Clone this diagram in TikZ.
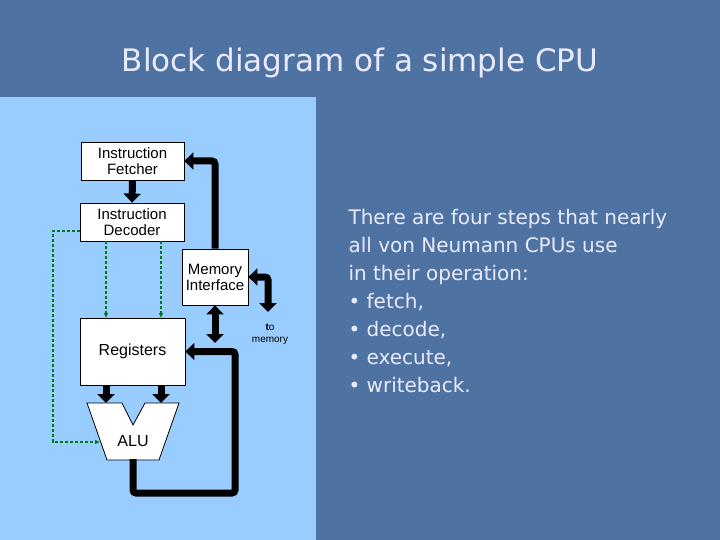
\documentclass[tikz,border=0pt]{standalone}
\usepackage{fontspec}
\setmainfont{DejaVu Sans}
\newfontfamily\arialf{Liberation Sans}
\usetikzlibrary{arrows.meta}
\definecolor{slidebg}{HTML}{4E73A2}
\definecolor{panel}{HTML}{99CCFF}
\definecolor{dgreen}{HTML}{007A1E}
\begin{document}
\begin{tikzpicture}[x=1pt,y=-1pt,
  blk/.style={draw=black,fill=white,line width=0.8pt,inner sep=0pt,align=center,font=\arialf\fontsize{15}{16}\selectfont},
  bus/.style={line width=7pt,-{Triangle[length=9pt,width=17pt]}},
  dbus/.style={line width=7pt,{Triangle[length=9pt,width=17pt]}-{Triangle[length=9pt,width=17pt]}},
  ctl/.style={dgreen,densely dashed,line width=1.3pt,-{Latex[length=5pt,width=5pt]}}]
\fill[slidebg] (0,0) rectangle (720,540);
\fill[panel] (0,97) rectangle (316,540);
\node[text=white!92!blue,font=\fontsize{31}{34}\selectfont] (title) at (360,63) {Block diagram of a simple CPU};
% blocks
\node[blk,minimum width=103pt,minimum height=38pt] (fet) at (132.5,161) {Instruction\\Fetcher};
\node[blk,minimum width=104pt,minimum height=38pt] (dec) at (132,222) {Instruction\\Decoder};
\node[blk,minimum width=66pt,minimum height=56pt] (mem) at (215,277) {Memory\\Interface};
\node[blk,minimum width=105pt,minimum height=67pt,font=\arialf\fontsize{16}{17}\selectfont] (reg) at (132.5,351.5) {Registers};
\draw[fill=white,line width=0.8pt] (87,403) -- (122,403) -- (133,425) -- (145,403) -- (179,403) -- (159,460) -- (107,460) -- cycle;
\node[font=\arialf\fontsize{16}{17}\selectfont] (alu) at (133,441) {ALU};
\coordinate (alutop1) at (106,403);
\coordinate (alutop2) at (161,403);
\coordinate (alubot) at (133,459);
\coordinate (aluleft) at (100,442);
% buses
\draw[bus] (fet.south) -- (dec.north);
\draw[bus,rounded corners=3pt] (mem.north) |- (fet.east);
\coordinate (tomem) at (268,312);
\draw[bus,{Triangle[length=9pt,width=17pt]}-{Triangle[length=9pt,width=17pt]},rounded corners=3pt] (mem.east) -| (tomem);
\draw[bus] (106,385) -- (alutop1);
\draw[bus] (161,385) -- (alutop2);
\draw[bus,rounded corners=3pt] (alubot) |- (235,493) |- (reg.east);
\coordinate (busjoin) at (215,343);
\draw[dbus] (mem.south) -- (busjoin);
% control
\draw[ctl] (dec.west |- 0,231) -| (53,442) -- (aluleft);
\draw[ctl] (106,241) -- (106,318);
\draw[ctl] (161,241) -- (161,318);
\node[font=\arialf\fontsize{10}{12}\selectfont,align=center] (tm) at (270,334) {\textbf{t}o\\memory};
% text
\node[anchor=north west,text=white!92!blue,align=left,font=\fontsize{20}{28}\selectfont] (txt) at (345,206)
 {There are four steps that nearly\\all von Neumann CPUs use\\in their operation:\\• fetch,\\• decode,\\• execute,\\• writeback.};
\end{tikzpicture}
\end{document}
